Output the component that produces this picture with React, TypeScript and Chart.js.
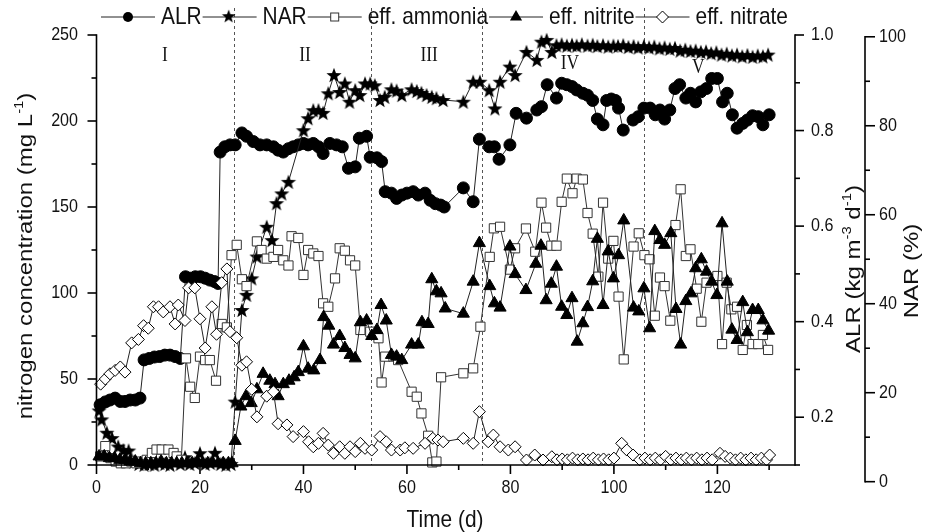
import React, { useEffect, useRef } from 'react';
import { Chart, registerables } from 'chart.js';

Chart.register(...registerables);

// ---------------- data ----------------
const TIME_TICKS = [0, 20, 40, 60, 80, 100, 120];
const CONC_TICKS = [0, 50, 100, 150, 200, 250];
const ALR_TICKS = [0.2, 0.4, 0.6, 0.8, 1.0];
const NAR_TICKS = [0, 20, 40, 60, 80, 100];
const PHASE_BOUNDARIES = [26.6, 53.1, 74.6, 105.9];
const PHASE_NAMES = ['I', 'II', 'III', 'IV', 'V'];
const PHASE_NAME_DAY = [13.2, 40.3, 64.3, 91.5, 116.3];
const PHASE_NAME_CONC = [238, 238, 238, 233, 231];
const LEGEND_NAMES = ['ALR', 'NAR', 'eff. ammonia', 'eff. nitrite', 'eff. nitrate'];

// ALR (kg m-3 d-1): [day, value]
const ALR_POINTS: [number, number][] = [
  [0.7, 0.226], [1.7, 0.232], [2.6, 0.236], [3.6, 0.24], [4.6, 0.233], [5.5, 0.233], [6.5, 0.236], [7.5, 0.236], [8.4, 0.24],
  [9.2, 0.32], [10.2, 0.323], [11.2, 0.326], [12.2, 0.327], [13.2, 0.33], [14.2, 0.33], [15.2, 0.327], [16.2, 0.323],
  [17.2, 0.494], [18.1, 0.491], [19.1, 0.494], [20.1, 0.494], [21.0, 0.491], [21.9, 0.487], [22.8, 0.484], [23.5, 0.48],
  [23.9, 0.755], [24.8, 0.766], [25.8, 0.77], [26.8, 0.77], [28.1, 0.795], [29.0, 0.788], [30.3, 0.777], [31.6, 0.77],
  [32.9, 0.77], [34.2, 0.766], [35.1, 0.759], [36.1, 0.755], [37.1, 0.762], [38.0, 0.766], [39.0, 0.77], [40.0, 0.773],
  [40.9, 0.77], [41.9, 0.773], [42.9, 0.766], [43.8, 0.752], [45.1, 0.773], [46.4, 0.77], [47.5, 0.766], [48.7, 0.721],
  [50.0, 0.724], [50.8, 0.784], [52.2, 0.788], [52.9, 0.744], [54.2, 0.743], [55.1, 0.735], [55.8, 0.672], [57.0, 0.669],
  [58.0, 0.658], [59.0, 0.665], [60.0, 0.669], [61.2, 0.672], [62.2, 0.665], [63.5, 0.669], [64.5, 0.654], [65.5, 0.647],
  [66.5, 0.644], [67.2, 0.64], [70.9, 0.68], [72.8, 0.651], [74.0, 0.782], [75.9, 0.766], [76.9, 0.766], [77.8, 0.74],
  [79.9, 0.77], [81.1, 0.836], [83.1, 0.826], [85.1, 0.843], [86.0, 0.85], [87.1, 0.896], [88.9, 0.868], [89.9, 0.899],
  [90.9, 0.896], [91.9, 0.892], [92.8, 0.885], [94.0, 0.878], [94.9, 0.874], [95.9, 0.863], [96.8, 0.824], [97.9, 0.812],
  [98.6, 0.863], [99.5, 0.866], [100.3, 0.863], [100.9, 0.847], [101.8, 0.801], [103.7, 0.822], [104.7, 0.829], [105.8, 0.847],
  [107.0, 0.847], [108.0, 0.833], [108.9, 0.843], [109.8, 0.824], [110.8, 0.843], [111.8, 0.888], [112.7, 0.896], [113.9, 0.868],
  [114.8, 0.878], [115.8, 0.86], [116.8, 0.881], [117.9, 0.888], [118.9, 0.909], [120.0, 0.909], [121.0, 0.86], [121.9, 0.878],
  [122.9, 0.833], [123.8, 0.805], [124.9, 0.815], [125.8, 0.822], [126.8, 0.831], [127.9, 0.829], [128.8, 0.812], [130.0, 0.833],
];

// NAR (%): [day, value]
const NAR_POINTS: [number, number][] = [
  [0.5, 16], [1.0, 14], [2.0, 11], [3.0, 9.8], [4.2, 7.9], [5.2, 7.1], [6.2, 7.0], [7.2, 4.5], [8.2, 4.0], [9.2, 3.8],
  [10.2, 4.0], [11.2, 3.8], [12.2, 4.2], [13.2, 4.0], [14.2, 3.8], [15.2, 4.5], [16.2, 4.0], [17.1, 5.5], [18.0, 4.0],
  [19.0, 4.2], [20.0, 6.4], [21.0, 4.0], [22.0, 4.2], [22.9, 6.5], [24.0, 4.0], [25.0, 3.8], [26.0, 4.0], [26.8, 18.0],
  [28.1, 38.6], [29.0, 42.0], [30.0, 45.7], [31.0, 50.6], [32.9, 57.3], [33.9, 54.3], [34.8, 62.6], [35.8, 64.8], [37.1, 67.4],
  [40.0, 79.0], [40.9, 81.7], [41.9, 83.5], [42.9, 83.5], [43.8, 82.9], [44.8, 87.3], [45.9, 91.4], [47.0, 87.6], [48.0, 89.5],
  [48.9, 85.4], [50.0, 88.0], [50.9, 86.9], [51.9, 89.5], [52.9, 89.5], [53.8, 89.1], [54.8, 85.8], [55.7, 86.5], [57.0, 88.2],
  [58.0, 87.9], [59.0, 86.9], [60.9, 88.2], [61.9, 87.8], [62.8, 87.4], [63.8, 86.9], [64.8, 86.5], [65.7, 86.2], [67.0, 85.8],
  [70.9, 85.4], [72.8, 89.9], [74.1, 89.9], [75.9, 88.0], [77.0, 83.9], [78.0, 89.9], [79.9, 93.3], [80.9, 91.4], [83.1, 96.6],
  [85.1, 94.8], [86.0, 98.9], [87.0, 99.3], [88.0, 96.6], [88.9, 98.1], [89.9, 98.3], [90.9, 98.0], [91.9, 98.2], [92.8, 98.0],
  [93.8, 98.3], [94.9, 98.0], [95.9, 98.2], [96.8, 97.9], [97.9, 98.1], [98.9, 97.8], [99.9, 98.0], [100.8, 97.9], [101.8, 98.1],
  [102.8, 97.7], [103.8, 97.9], [104.7, 97.6], [105.8, 97.9], [106.8, 97.6], [107.8, 97.8], [108.8, 97.4], [109.8, 97.6],
  [110.8, 97.3], [111.8, 97.5], [112.8, 96.9], [113.8, 97.1], [114.8, 96.8], [115.8, 96.9], [116.8, 96.6], [117.8, 96.7],
  [118.8, 96.3], [119.8, 96.5], [120.8, 96.0], [121.8, 96.2], [122.8, 95.8], [123.8, 96.0], [124.8, 95.6], [125.8, 95.9],
  [126.8, 95.5], [127.8, 95.8], [128.8, 95.6], [129.8, 96.0],
];

// effluent ammonia (mg L-1): [day, value]
const AMMONIA_POINTS: [number, number][] = [
  [0.7, 5], [1.7, 11], [2.7, 4], [3.7, 2], [4.7, 1], [5.7, 1], [6.7, 2], [7.7, 1], [8.7, 2], [9.7, 3], [10.7, 7], [11.6, 9],
  [12.6, 9], [13.9, 9], [14.9, 7], [15.5, 5], [16.4, 3], [17.3, 62], [18.1, 45.5], [19.0, 39], [20.0, 63], [21.0, 61],
  [21.9, 61], [23.1, 49], [24.2, 82], [25.2, 80], [26.1, 122], [27.1, 128], [28.1, 108], [29.0, 104], [31.0, 130], [31.9, 125],
  [32.9, 120], [34.2, 121], [35.1, 125], [36.1, 119], [37.1, 116], [37.7, 133], [39.0, 132], [40.0, 110.5], [40.9, 125],
  [41.9, 123], [42.9, 121.5], [43.8, 94], [44.8, 92], [46.1, 108.5], [47.0, 126], [48.0, 124.6], [49.0, 119], [50.0, 116],
  [51.0, 78.5], [52.9, 77.5], [54.5, 73.7], [55.1, 48], [55.8, 63], [57.4, 63], [58.3, 61], [60.9, 42.6], [61.9, 39.7],
  [62.8, 30], [64.1, 17], [64.9, 1.5], [65.7, 2], [66.6, 51], [70.9, 53.3], [72.8, 56.2], [74.2, 80.4], [76.0, 121],
  [76.8, 137.6], [78.0, 138.5], [79.9, 113.6], [80.9, 126], [83.0, 137.5], [84.8, 124], [86.0, 152.5], [86.9, 138],
  [87.9, 127.5], [88.9, 127.5], [89.9, 153], [90.9, 166.5], [92.0, 158], [92.8, 166.5], [94.0, 166], [94.9, 146.5],
  [95.9, 134.5], [97.0, 109.5], [97.9, 152.5], [98.9, 120], [99.9, 130.3], [100.9, 97.9], [101.9, 61.4], [103.8, 127],
  [104.8, 134.7], [105.9, 122], [106.9, 119.6], [107.9, 86.8], [108.9, 109], [109.8, 104], [110.9, 83.9], [111.9, 139.5],
  [112.9, 160.3], [113.9, 121.5], [114.8, 125.4], [116.0, 102.5], [116.9, 83.3], [117.9, 106], [120.0, 109.9], [120.9, 70.3],
  [121.8, 106], [122.7, 90.5], [123.8, 92], [124.9, 66.9], [125.7, 81.4], [126.8, 70.3], [127.9, 70.3], [128.8, 75.6],
  [129.8, 66.9],
];

// effluent nitrite (mg L-1): [day, value]
const NITRITE_POINTS: [number, number][] = [
  [0.5, 5], [1.5, 5], [2.5, 4], [3.5, 4], [4.5, 3], [5.5, 3], [6.5, 2], [7.5, 2], [8.5, 1], [9.5, 1], [10.5, 1], [11.5, 1],
  [12.5, 2], [13.5, 1], [14.5, 1], [15.5, 1], [16.5, 1], [17.5, 1], [18.5, 1], [19.5, 2], [20.5, 1], [21.5, 1], [22.5, 1],
  [23.5, 1], [24.5, 1], [25.5, 1], [26.2, 1], [26.8, 14], [27.9, 34], [28.9, 40], [29.9, 36], [31.0, 44], [32.2, 53],
  [33.5, 49], [34.5, 47], [35.1, 40], [36.1, 47], [37.2, 49], [38.2, 51], [39.0, 54], [40.0, 69], [40.9, 56], [42.0, 55],
  [43.2, 61], [43.9, 86], [44.9, 81], [45.8, 70], [47.0, 75], [48.0, 68], [49.0, 64], [50.0, 62], [51.0, 83], [52.2, 84],
  [53.2, 75], [54.2, 78.5], [55.0, 93], [56.0, 84], [57.0, 64], [58.0, 63], [59.0, 61], [60.9, 70], [62.2, 70], [62.9, 83],
  [64.1, 82], [64.8, 108], [65.7, 101], [66.6, 99.8], [67.4, 91], [70.9, 88], [72.8, 106.6], [74.0, 129], [76.0, 104],
  [76.9, 94], [78.0, 91.5], [79.9, 127], [80.9, 111], [83.0, 101.7], [84.9, 117], [85.9, 127.5], [86.9, 95.8], [87.9, 105.4],
  [88.9, 115.3], [89.9, 92], [90.9, 87.2], [91.9, 97], [92.9, 71.7], [94.0, 82.4], [94.9, 91.8], [95.9, 106.8], [96.8, 131.5],
  [97.9, 93], [98.9, 124.2], [99.9, 108.5], [100.9, 122], [101.9, 142.2], [103.8, 91.5], [104.8, 89.3], [105.8, 102.7],
  [106.9, 79.5], [107.9, 136], [108.9, 130.8], [109.8, 128], [111.0, 134.8], [112.0, 90.7], [112.9, 70], [113.9, 95.3],
  [114.9, 99.8], [115.8, 114.4], [116.9, 119.6], [117.9, 112.4], [118.9, 106.6], [119.9, 98.8], [120.9, 140.5], [121.9, 106.6],
  [122.8, 78.7], [123.8, 72.7], [124.9, 94.7], [125.8, 77.2], [126.8, 90.1], [127.9, 90.1], [128.8, 84.1], [129.9, 78.1],
];

// effluent nitrate (mg L-1): [day, value]
const NITRATE_POINTS: [number, number][] = [
  [0.8, 47], [1.7, 50], [2.6, 53], [3.6, 55], [4.6, 57], [5.5, 54], [6.8, 71], [8.1, 73], [9.1, 81], [10.0, 79.5], [11.0, 92],
  [12.0, 92], [12.9, 89], [14.2, 92], [15.2, 82], [15.8, 93], [17.1, 84], [17.8, 103], [19.0, 103], [20.0, 85], [21.0, 68],
  [22.3, 92], [23.2, 76], [24.2, 106], [25.2, 114], [25.8, 77.5], [27.1, 74], [28.1, 58], [29.0, 60], [30.0, 44], [31.0, 28],
  [32.9, 40], [34.2, 42.6], [35.1, 24], [36.8, 23.3], [38.0, 16.5], [40.0, 19.4], [41.0, 13.5], [41.9, 10.6], [42.9, 12.6],
  [43.8, 18.4], [44.8, 11.6], [45.8, 6.8], [47.0, 10.6], [48.0, 6.8], [49.0, 10.6], [50.0, 7.8], [51.0, 12.6], [51.9, 9.7],
  [53.2, 8.7], [54.8, 16.5], [56.0, 13.5], [57.0, 8.7], [58.7, 8.7], [59.6, 10], [61.2, 9.7], [63.5, 12.6], [65.0, 15.5],
  [66.0, 14.5], [67.0, 13.5], [70.9, 15.5], [72.8, 12.6], [74.0, 31], [75.7, 13.5], [76.7, 17.4], [78.0, 10.6], [79.6, 8.7],
  [80.9, 10.6], [83.1, 2.9], [84.7, 5.8], [86.3, 2.9], [88.0, 4.8], [89.0, 3], [90.0, 3.5], [91.0, 3], [92.0, 4], [93.0, 3],
  [94.0, 3.5], [95.0, 3], [96.0, 4], [97.0, 3], [98.0, 3.5], [99.0, 3], [100.0, 4], [101.5, 12.6], [102.5, 8.7], [103.7, 5.8],
  [105.0, 3], [106.0, 4], [107.0, 3], [108.0, 4], [109.0, 3], [110.0, 5], [111.0, 3], [112.0, 4], [113.0, 3], [114.0, 4],
  [115.0, 3], [116.0, 4], [117.0, 3], [118.0, 4], [119.0, 3], [120.5, 6.8], [121.5, 5], [122.5, 4], [123.5, 3], [124.5, 4],
  [125.5, 3], [126.5, 4], [127.5, 3], [128.5, 4], [129.5, 3], [130.1, 5.8],
];

// ---------------- styling helpers ----------------
const SANS = '"Liberation Sans", Arial, Helvetica, sans-serif';
const SERIF = '"Liberation Serif", "Times New Roman", serif';
const SX = 0.87; // horizontal text compression seen in the reference
const TICK_FONT = 18.5;
const TITLE_FONT = 24;
const INK = '#111';

function makeStar(): HTMLCanvasElement {
  const c = document.createElement('canvas');
  c.width = 18;
  c.height = 18;
  const g = c.getContext('2d') as CanvasRenderingContext2D;
  g.beginPath();
  for (let i = 0; i < 10; i++) {
    const r = i % 2 === 0 ? 8.0 : 3.3;
    const a = -Math.PI / 2 + (i * Math.PI) / 5;
    const px = 9 + r * Math.cos(a);
    const py = 9.7 + r * Math.sin(a);
    if (i === 0) g.moveTo(px, py);
    else g.lineTo(px, py);
  }
  g.closePath();
  g.fillStyle = '#000';
  g.fill();
  return c;
}

function drawText(ctx: CanvasRenderingContext2D, s: string, x: number, y: number, size: number,
  align: CanvasTextAlign, baseline: CanvasTextBaseline, family = SANS) {
  ctx.save();
  ctx.translate(x, y);
  ctx.scale(SX, 1);
  ctx.font = `${size}px ${family}`;
  ctx.textAlign = align;
  ctx.textBaseline = baseline;
  ctx.fillStyle = INK;
  ctx.fillText(s, 0, 0);
  ctx.restore();
}

type Part = { t: string; sup?: boolean };
function drawRich(ctx: CanvasRenderingContext2D, parts: Part[], cx: number, cy: number, size: number, rotated: boolean) {
  ctx.save();
  ctx.translate(cx, cy);
  ctx.scale(SX, 1);
  if (rotated) ctx.rotate(-Math.PI / 2);
  const supSize = size * 0.62;
  let total = 0;
  const widths = parts.map((p) => {
    ctx.font = `${p.sup ? supSize : size}px ${SANS}`;
    const w = ctx.measureText(p.t).width;
    total += w;
    return w;
  });
  let x = -total / 2;
  const base = size * 0.36;
  ctx.textAlign = 'left';
  ctx.textBaseline = 'alphabetic';
  ctx.fillStyle = INK;
  parts.forEach((p, i) => {
    ctx.font = `${p.sup ? supSize : size}px ${SANS}`;
    ctx.fillText(p.t, x, p.sup ? base - size * 0.42 : base);
    x += widths[i];
  });
  ctx.restore();
}

function line(ctx: CanvasRenderingContext2D, x1: number, y1: number, x2: number, y2: number) {
  ctx.beginPath();
  ctx.moveTo(x1, y1);
  ctx.lineTo(x2, y2);
  ctx.stroke();
}

function drawMarker(ctx: CanvasRenderingContext2D, kind: string, x: number, y: number, star: HTMLCanvasElement) {
  ctx.save();
  ctx.lineWidth = 1;
  if (kind === 'circle') {
    ctx.beginPath();
    ctx.arc(x, y, 5, 0, Math.PI * 2);
    ctx.fillStyle = '#000';
    ctx.fill();
  } else if (kind === 'star') {
    ctx.drawImage(star, x - 9, y - 9, 16, 16);
  } else if (kind === 'rect') {
    ctx.fillStyle = '#fff';
    ctx.strokeStyle = '#333';
    ctx.fillRect(x - 4, y - 4, 8, 8);
    ctx.strokeRect(x - 4, y - 4, 8, 8);
  } else if (kind === 'triangle') {
    const r = 7;
    ctx.beginPath();
    ctx.moveTo(x, y - r);
    ctx.lineTo(x + r * 0.866, y + r / 2);
    ctx.lineTo(x - r * 0.866, y + r / 2);
    ctx.closePath();
    ctx.fillStyle = '#000';
    ctx.fill();
  } else {
    const r = 6;
    ctx.beginPath();
    ctx.moveTo(x - r, y);
    ctx.lineTo(x, y - r);
    ctx.lineTo(x + r, y);
    ctx.lineTo(x, y + r);
    ctx.closePath();
    ctx.fillStyle = '#fff';
    ctx.strokeStyle = '#000';
    ctx.fill();
    ctx.stroke();
  }
  ctx.restore();
}

const MARKER_KINDS = ['circle', 'star', 'rect', 'triangle', 'diamond'];

export default function App() {
  const ref = useRef<HTMLCanvasElement>(null);

  useEffect(() => {
    const canvas = ref.current;
    if (!canvas) return;
    const star = makeStar();

    const decor = {
      id: 'decor',
      beforeDatasetsDraw(chart: any) {
        const ctx: CanvasRenderingContext2D = chart.ctx;
        const xs = chart.scales.x;
        const area = chart.chartArea;
        ctx.save();
        ctx.strokeStyle = '#555';
        ctx.lineWidth = 1;
        ctx.setLineDash([3, 3]);
        PHASE_BOUNDARIES.forEach((b) => {
          const px = Math.round(xs.getPixelForValue(b)) + 0.5;
          line(ctx, px, 8, px, area.bottom);
        });
        ctx.restore();
      },
      afterDraw(chart: any) {
        const ctx: CanvasRenderingContext2D = chart.ctx;
        const { x: xs, y: ys, alr, nar } = chart.scales;
        const area = chart.chartArea;
        const narX = 865;
        ctx.save();
        ctx.strokeStyle = '#000';
        ctx.lineWidth = 1.6;
        ctx.setLineDash([]);
        // axis lines
        line(ctx, area.left, area.top - 0.8, area.left, area.bottom + 0.8);
        line(ctx, area.left, area.bottom, area.right, area.bottom);
        line(ctx, area.right, area.top - 0.8, area.right, area.bottom + 0.8);
        line(ctx, narX, nar.getPixelForValue(100) - 0.8, narX, nar.getPixelForValue(0) + 0.8);

        // x ticks
        TIME_TICKS.forEach((v) => {
          const px = xs.getPixelForValue(v);
          line(ctx, px, area.bottom, px, area.bottom + 9);
          const mid = v + (TIME_TICKS[1] - TIME_TICKS[0]) / 2;
          const pm = xs.getPixelForValue(mid);
          line(ctx, pm, area.bottom, pm, area.bottom + 5);
          drawText(ctx, String(v), px, 488, TICK_FONT, 'center', 'middle');
        });
        // left ticks
        CONC_TICKS.forEach((v, i) => {
          const py = ys.getPixelForValue(v);
          line(ctx, area.left - 9, py, area.left, py);
          if (i < CONC_TICKS.length - 1) {
            const pm = ys.getPixelForValue(v + (CONC_TICKS[1] - CONC_TICKS[0]) / 2);
            line(ctx, area.left - 5, pm, area.left, pm);
          }
          drawText(ctx, String(v), 78, py, TICK_FONT, 'right', 'middle');
        });
        // ALR ticks
        ALR_TICKS.forEach((v) => {
          const py = alr.getPixelForValue(v);
          line(ctx, area.right, py, area.right + 9, py);
          const pm = alr.getPixelForValue(v - 0.1);
          line(ctx, area.right, pm, area.right + 5, pm);
          drawText(ctx, v.toFixed(1), 811, py, TICK_FONT, 'left', 'middle');
        });
        // NAR ticks
        NAR_TICKS.forEach((v, i) => {
          const py = nar.getPixelForValue(v);
          line(ctx, narX, py, narX + 10, py);
          if (i < NAR_TICKS.length - 1) {
            const pm = nar.getPixelForValue(v + (NAR_TICKS[1] - NAR_TICKS[0]) / 2);
            line(ctx, narX, pm, narX + 5, pm);
          }
          drawText(ctx, String(v), 879, py, TICK_FONT, 'left', 'middle');
        });

        // axis titles
        drawRich(ctx, [{ t: 'Time (d)' }], 445, 518, TITLE_FONT, false);
        drawRich(ctx, [{ t: 'nitrogen concentration (mg L' }, { t: '-1', sup: true }, { t: ')' }], 24, 256, TITLE_FONT, true);
        drawRich(ctx, [{ t: 'ALR (kg m' }, { t: '-3', sup: true }, { t: ' d' }, { t: '-1', sup: true }, { t: ')' }], 852, 269, TITLE_FONT, true);
        drawRich(ctx, [{ t: 'NAR (%)' }], 910, 271, TITLE_FONT, true);

        // phase labels
        PHASE_NAMES.forEach((n, i) => {
          drawText(ctx, n, xs.getPixelForValue(PHASE_NAME_DAY[i]), ys.getPixelForValue(PHASE_NAME_CONC[i]), 20, 'center', 'middle', SERIF);
        });

        // legend
        let lx = 101;
        const ly = 17;
        ctx.lineWidth = 1;
        ctx.strokeStyle = '#222';
        LEGEND_NAMES.forEach((name, i) => {
          line(ctx, lx, ly, lx + 54, ly);
          drawMarker(ctx, MARKER_KINDS[i], lx + 27, ly, star);
          ctx.font = `${TITLE_FONT}px ${SANS}`;
          const w = ctx.measureText(name).width * SX;
          drawText(ctx, name, lx + 60, ly, TITLE_FONT, 'left', 'middle');
          lx += 60 + w + 1;
        });
        ctx.restore();
      },
    };

    const toXY = (pts: [number, number][]) => pts.map(([x, y]) => ({ x, y }));
    const common = {
      borderWidth: 1,
      pointBorderWidth: 1,
      pointHoverRadius: 6,
      tension: 0,
      clip: false,
      fill: false,
    };

    const chart = new Chart(canvas, {
      type: 'line',
      data: {
        datasets: [
          {
            ...common, label: 'ALR', data: toXY(ALR_POINTS), yAxisID: 'alr', order: 5,
            borderColor: '#222', pointStyle: 'circle', pointRadius: 6,
            pointBackgroundColor: '#000', pointBorderColor: '#000',
          },
          {
            ...common, label: 'NAR', data: toXY(NAR_POINTS), yAxisID: 'nar', order: 4,
            borderColor: '#222', pointStyle: star, pointRadius: 8,
            pointBackgroundColor: '#000', pointBorderColor: '#000',
          },
          {
            ...common, label: 'eff. ammonia', data: toXY(AMMONIA_POINTS), yAxisID: 'y', order: 3,
            borderColor: '#333', pointStyle: 'rect', pointRadius: 6.5,
            pointBackgroundColor: '#fff', pointBorderColor: '#333',
          },
          {
            ...common, label: 'eff. nitrite', data: toXY(NITRITE_POINTS), yAxisID: 'y', order: 2,
            borderColor: '#222', pointStyle: 'triangle', pointRadius: 7,
            pointBackgroundColor: '#000', pointBorderColor: '#000',
          },
          {
            ...common, label: 'eff. nitrate', data: toXY(NITRATE_POINTS), yAxisID: 'y', order: 1,
            borderColor: '#222', pointStyle: 'rectRot', pointRadius: 6,
            pointBackgroundColor: '#fff', pointBorderColor: '#000',
          },
        ],
      },
      options: {
        responsive: false,
        maintainAspectRatio: false,
        devicePixelRatio: 1,
        animation: false,
        events: [],
        layout: { padding: { left: 96.5, right: 130, top: 35, bottom: 67 } },
        plugins: { legend: { display: false }, tooltip: { enabled: false } },
        scales: {
          x: { type: 'linear', min: 0, max: 135, display: false },
          y: { type: 'linear', min: 0, max: 250, display: false },
          alr: { type: 'linear', min: 0.1, max: 1.0, display: false, position: 'right' },
          nar: { type: 'linear', min: 3.75, max: 100.4, display: false, position: 'right' },
        },
      },
      plugins: [decor],
    } as any);

    return () => chart.destroy();
  }, []);

  return (
    <div style={{ position: 'fixed', left: 0, top: 0, width: 925, height: 532, background: '#fff' }}>
      <canvas ref={ref} width={925} height={532} style={{ width: 925, height: 532, display: 'block' }} />
    </div>
  );
}
